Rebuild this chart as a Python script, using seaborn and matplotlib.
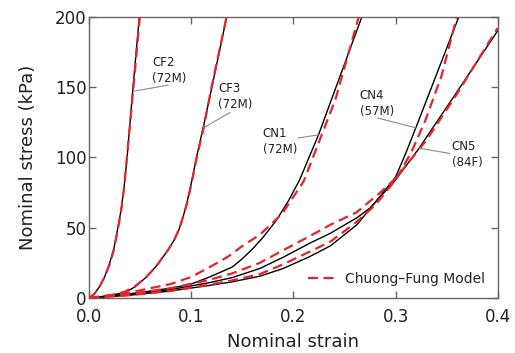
import matplotlib
matplotlib.use("Agg")
import matplotlib.pyplot as plt
import seaborn as sns

# Measured stress-strain curves (nominal strain, nominal stress in kPa)
cf2_strain = [0, .005, .010, .015, .020, .024, .028, .031, .034, .037, .0425, .049]
cf2_stress = [0, 3, 8, 15, 25, 35, 50, 62, 78, 100, 147, 200]
cf3_strain = [0, .012, .025, .035, .045, .056, .066, .077, .083, .088, .092, .096, .100, .105, .1115, .1195, .1346]
cf3_stress = [0, 1, 2.5, 4, 8, 15, 23, 34, 41, 49, 58, 69, 82, 100, 121, 148, 200]
cn1_strain = [0, .02, .04, .06, .08, .10, .118, .14, .15, .16, .17, .183, .195, .206, .2245, .267]
cn1_stress = [0, 1.5, 3, 5, 7, 10, 15, 22, 28, 35, 43, 55, 69, 84, 116, 200]
cn4_strain = [0, .04, .08, .118, .14, .167, .19, .216, .236, .262, .28, .30, .31, .3198, .362]
cn4_stress = [0, 2, 5, 9, 11.5, 15.5, 21, 29.5, 37, 52, 68, 86, 103, 121, 200]
cn5_strain = [0, .04, .08, .118, .14, .167, .19, .216, .236, .262, .275, .30, .323, .355, .40]
cn5_stress = [0, 2.5, 6, 11, 14.5, 21, 29, 39, 46, 57, 64, 84, 106.5, 141, 190]

# Chuong-Fung model fits
cf2_fit_strain = [0, .005, .010, .015, .020, .024, .028, .031, .034, .037, .043, .0495]
cf2_fit_stress = [0, 3, 8, 15, 24, 34, 49, 61, 78, 101, 148, 200]
cf3_fit_strain = [0, .012, .025, .035, .045, .056, .066, .077, .083, .088, .092, .096, .100, .105, .112, .120, .1345]
cf3_fit_stress = [0, 1, 2.5, 4.5, 8.5, 15, 23, 34, 41, 49, 58, 68, 81, 99, 121, 151, 200]
cn1_fit_strain = [0, .02, .04, .06, .08, .10, .118, .135, .15, .167, .189, .21, .241, .264]
cn1_fit_stress = [0, 2, 4, 7, 10, 15, 22, 29, 37, 45, 60, 83, 141, 200]
cn4_fit_strain = [0, .04, .08, .118, .14, .167, .19, .216, .236, .26, .28, .30, .315, .329, .345, .360]
cn4_fit_stress = [0, 2, 5, 9.5, 12.5, 17, 24, 33, 40, 53, 66, 84, 103, 126, 158, 200]
cn5_fit_strain = [0, .04, .08, .118, .14, .167, .19, .216, .236, .262, .285, .30, .33, .36, .40]
cn5_fit_stress = [0, 3, 7, 13, 17.5, 25, 34, 44, 52, 61, 75, 85, 112, 145, 192]

labels = ["CF2\n(72M)", "CF3\n(72M)", "CN1\n(72M)", "CN4\n(57M)", "CN5\n(84F)"]
label_xy = [(0.0614, 162), (0.126, 143.6), (0.170, 111), (0.265, 138), (0.355, 102)]
leader_from = [(0.0773, 151.4), (0.138, 132), (0.2044, 113.8), (0.2828, 127.9), (0.353, 102.8)]
leader_to = [(0.0435, 147), (0.112, 121), (0.2245, 116), (0.3198, 121), (0.323, 106.5)]

sns.set_style("ticks")
plt.rcParams["font.family"] = ["DejaVu Sans"]

fig = plt.figure(figsize=(5.15, 3.53), dpi=100)
ax = fig.add_axes([0.1734, 0.1558, 0.7930, 0.7969])

measured = [(cf2_strain, cf2_stress), (cf3_strain, cf3_stress), (cn1_strain, cn1_stress),
            (cn4_strain, cn4_stress), (cn5_strain, cn5_stress)]
fits = [(cf2_fit_strain, cf2_fit_stress), (cf3_fit_strain, cf3_fit_stress),
        (cn1_fit_strain, cn1_fit_stress), (cn4_fit_strain, cn4_fit_stress),
        (cn5_fit_strain, cn5_fit_stress)]

for xs, ys in measured:
    sns.lineplot(x=xs, y=ys, ax=ax, color="black", linewidth=1.0,
                 sort=False, estimator=None, zorder=2)

red = "#e3262c"
for i, (xs, ys) in enumerate(fits):
    sns.lineplot(x=xs, y=ys, ax=ax, color=red, linewidth=1.6,
                 sort=False, estimator=None, zorder=3,
                 label="Chuong\u2013Fung Model" if i == 0 else None)
for line in ax.get_lines()[len(measured):]:
    line.set_dashes((4.5, 2.5))

for txt, pos, p0, p1 in zip(labels, label_xy, leader_from, leader_to):
    ax.text(pos[0], pos[1], txt, fontsize=8.5, ha="left", va="center",
            linespacing=1.3, color="#222222")
    ax.annotate("", xy=p1, xytext=p0,
                arrowprops=dict(arrowstyle="-", color="#8a8a8a", lw=0.8,
                                shrinkA=0, shrinkB=0))

ax.set_xlim(0, 0.4)
ax.set_ylim(0, 200)
ax.set_xticks([0.0, 0.1, 0.2, 0.3, 0.4])
ax.set_xticklabels(["0.0", "0.1", "0.2", "0.3", "0.4"])
ax.set_yticks([0, 50, 100, 150, 200])
ax.tick_params(direction="in", length=5, width=1, color="#666666",
               top=True, right=True, labelsize=12, labelcolor="#222222")
ax.tick_params(axis="x", pad=7.5)
ax.tick_params(axis="y", pad=2)
for s in ax.spines.values():
    s.set_color("#666666")
    s.set_linewidth(1.0)

ax.set_xlabel("Nominal strain", fontsize=13, color="#222222", labelpad=5)
ax.set_ylabel("Nominal stress (kPa)", fontsize=13, color="#222222", labelpad=13)

leg = ax.legend(loc="lower right", frameon=False, fontsize=10,
                handlelength=1.9, handletextpad=0.8,
                bbox_to_anchor=(1.0, 0.0), borderaxespad=0.5)

fig.savefig("out.png", dpi=100)
